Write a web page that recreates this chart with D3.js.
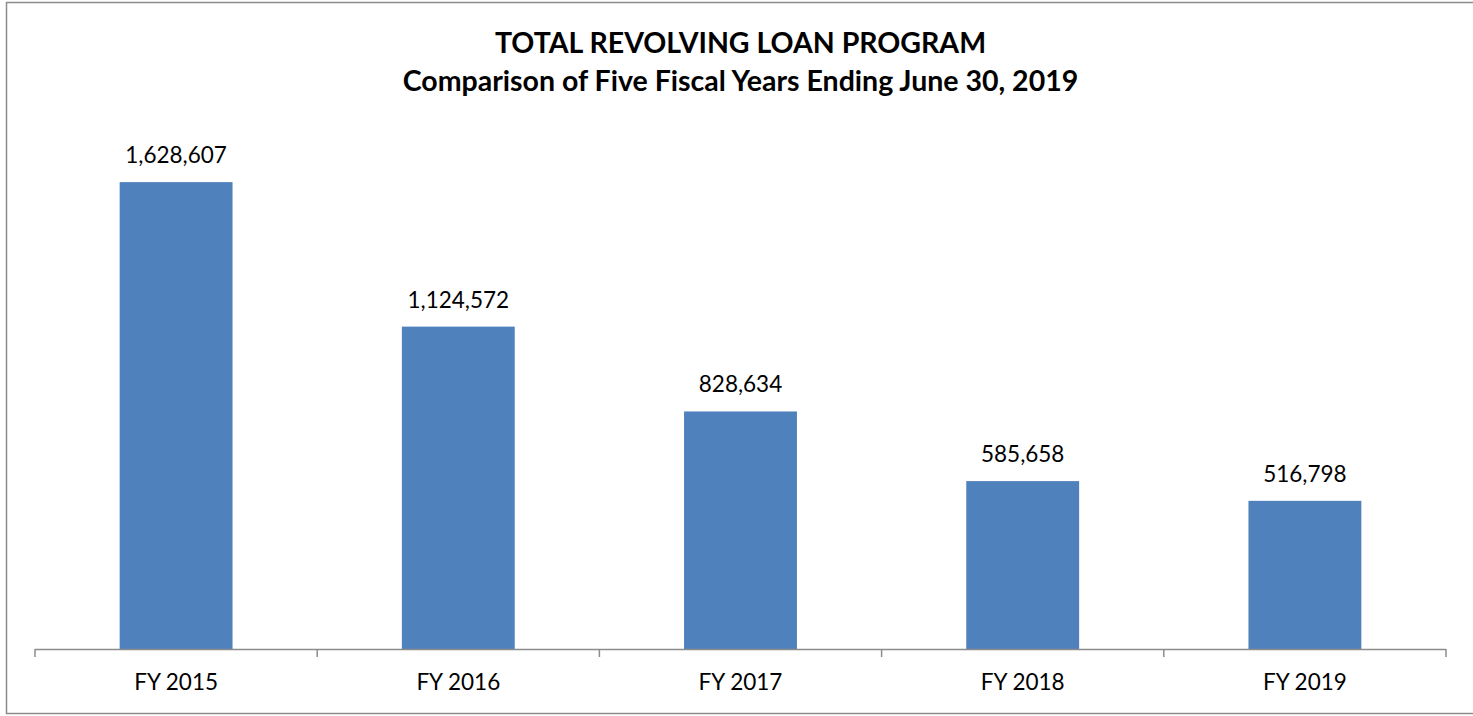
<!DOCTYPE html>
<html>
<head>
<meta charset="utf-8">
<script src="https://cdn.jsdelivr.net/npm/d3@7"></script>
<style>
  html, body { margin: 0; padding: 0; background: #fff; }
  svg { display: block; }
  text { font-family: Lato, "Open Sans", sans-serif; fill: #000; }
</style>
</head>
<body>
<div id="chart"></div>
<script>
// --- Data ---
const categories = ["FY 2015", "FY 2016", "FY 2017", "FY 2018", "FY 2019"];
const loanValues = [1628607, 1124572, 828634, 585658, 516798];
const titleLines = ["TOTAL REVOLVING LOAN PROGRAM", "Comparison of Five Fiscal Years Ending June 30, 2019"];

const width = 1473, height = 716;
const axisLeft = 35, axisRight = 1446, axisY = 649;

const svg = d3.select("#chart").append("svg")
    .attr("width", width)
    .attr("height", height);

// chart frame (runs off the right edge like the original)
svg.append("rect")
    .attr("x", 6.5).attr("y", 2.5)
    .attr("width", 1480).attr("height", 711)
    .attr("fill", "#fff")
    .attr("stroke", "#8c8c8c")
    .attr("stroke-width", 1.5);

// title
svg.append("g").selectAll("text")
    .data(titleLines)
    .join("text")
    .attr("x", (axisLeft + axisRight) / 2)
    .attr("y", (d, i) => 53 + i * 38)
    .attr("text-anchor", "middle")
    .attr("font-weight", "bold")
    .attr("font-size", 28.5)
    .text(d => d);

const x = d3.scaleBand()
    .domain(categories)
    .range([axisLeft, axisRight])
    .paddingInner(0.6)
    .paddingOuter(0.3);

// band without padding for tick positions
const xTicks = d3.scaleBand().domain(categories).range([axisLeft, axisRight]);

const y = d3.scaleLinear()
    .domain([0, 1800000])
    .range([axisY, 133]);

// bars
svg.append("g").selectAll("rect")
    .data(loanValues)
    .join("rect")
    .attr("x", (d, i) => x(categories[i]))
    .attr("width", x.bandwidth())
    .attr("y", d => y(d))
    .attr("height", d => y(0) - y(d))
    .attr("fill", "#4f81bd");

// value labels
const fmt = d3.format(",");
svg.append("g").selectAll("text")
    .data(loanValues)
    .join("text")
    .attr("x", (d, i) => x(categories[i]) + x.bandwidth() / 2)
    .attr("y", d => y(d) - 19)
    .attr("text-anchor", "middle")
    .attr("font-size", 22.5)
    .text(d => fmt(d));

// category axis
const axisG = svg.append("g");
axisG.append("line")
    .attr("x1", axisLeft).attr("x2", axisRight)
    .attr("y1", axisY + 0.5).attr("y2", axisY + 0.5)
    .attr("stroke", "#8c8c8c")
    .attr("stroke-width", 1.5);

const tickPos = categories.map(c => xTicks(c)).concat([axisRight]);
axisG.selectAll("line.tick")
    .data(tickPos)
    .join("line")
    .attr("class", "tick")
    .attr("x1", d => d).attr("x2", d => d)
    .attr("y1", axisY).attr("y2", axisY + 8)
    .attr("stroke", "#8c8c8c")
    .attr("stroke-width", 1.5);

axisG.selectAll("text")
    .data(categories)
    .join("text")
    .attr("x", d => xTicks(d) + xTicks.bandwidth() / 2)
    .attr("y", 690)
    .attr("text-anchor", "middle")
    .attr("font-size", 22.5)
    .text(d => d);
</script>
</body>
</html>
